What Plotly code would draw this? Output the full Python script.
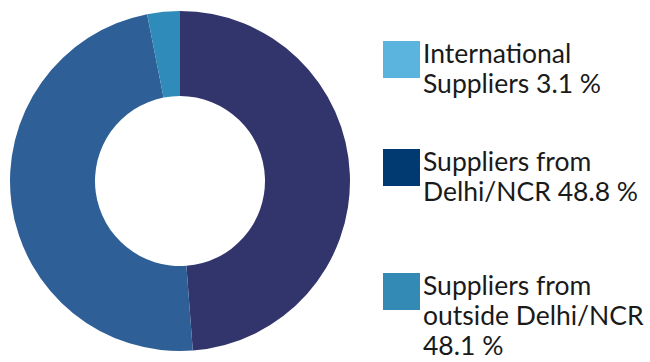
import plotly.graph_objects as go

# Supplier share (%), in drawing order around the ring (clockwise from 12 o'clock)
categories = ["Suppliers from Delhi/NCR", "Suppliers from outside Delhi/NCR", "International Suppliers"]
shares = [48.8, 48.1, 3.1]
slice_colors = ["#32356c", "#2f5f97", "#2e8bba"]

# Legend entries (top to bottom), with their own swatch colours
legend_lines = [
    ["International", "Suppliers 3.1 %"],
    ["Suppliers from", "Delhi/NCR 48.8 %"],
    ["Suppliers from", "outside Delhi/NCR", "48.1 %"],
]
legend_colors = ["#5ab4dd", "#003a70", "#338ab5"]

W, H = 650, 362

fig = go.Figure(
    go.Pie(
        labels=categories,
        values=shares,
        hole=0.5,
        sort=False,
        direction="clockwise",
        rotation=0,
        marker=dict(colors=slice_colors, line=dict(width=0)),
        textinfo="none",
        hoverinfo="label+percent",
        showlegend=False,
        domain=dict(x=[10 / W, 350 / W], y=[10 / H, 352 / H]),
    )
)

# Custom legend: square swatch plus wrapped label lines
swatch_tops = [41, 149, 273]
swatch = 37
line_step = 30
shapes, annotations = [], []
for top, color, lines in zip(swatch_tops, legend_colors, legend_lines):
    shapes.append(dict(
        type="rect", xref="paper", yref="paper",
        x0=383 / W, x1=(383 + swatch) / W,
        y0=1 - (top + swatch) / H, y1=1 - top / H,
        fillcolor=color, line=dict(width=0),
    ))
    for i, txt in enumerate(lines):
        cy = top + 12 + i * line_step
        annotations.append(dict(
            text=txt, xref="paper", yref="paper",
            x=421 / W, y=1 - cy / H,
            xanchor="left", yanchor="middle", showarrow=False,
            font=dict(family="Lato", size=26.5, color="#1a1a1a"),
        ))

fig.update_layout(
    width=W, height=H,
    margin=dict(l=0, r=0, t=0, b=0),
    paper_bgcolor="white",
    plot_bgcolor="white",
    shapes=shapes,
    annotations=annotations,
)

fig.write_html("out.html")
